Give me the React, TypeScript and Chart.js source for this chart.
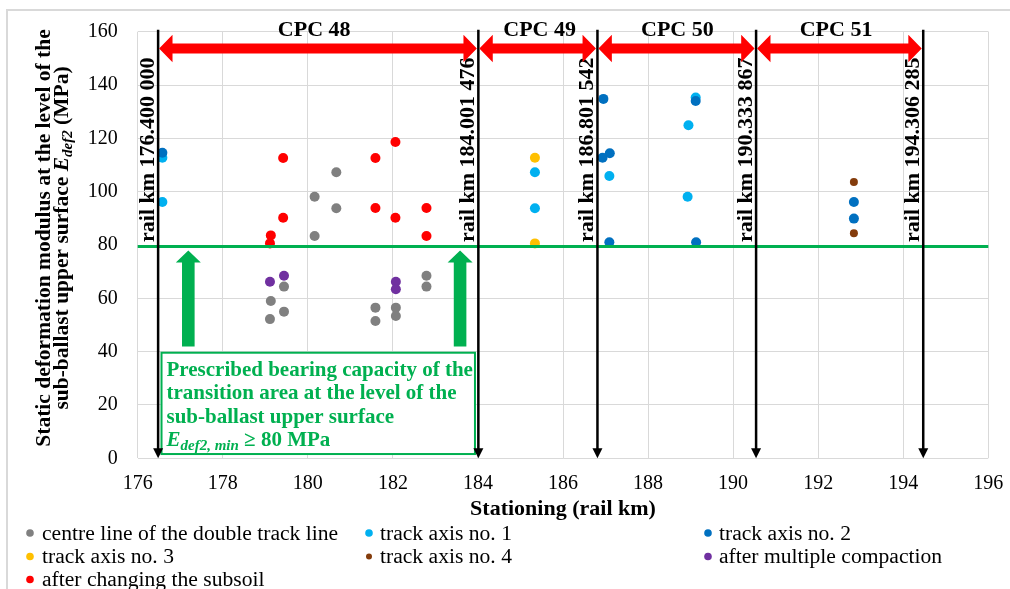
import React, { useEffect, useRef } from "react";
import { Chart, registerables } from "chart.js";

Chart.register(...registerables);

const FONT = '"Liberation Serif", "Times New Roman", Times, serif';

// ---------- data ----------
const seriesNames = [
  "centre line of the double track line",
  "track axis no. 1",
  "track axis no. 2",
  "track axis no. 3",
  "track axis no. 4",
  "after multiple compaction",
  "after changing the subsoil",
];
const seriesColors = ["#808080", "#00B0F0", "#0070C0", "#FFC000", "#843C0C", "#7030A0", "#FF0000"];
const seriesRadius = [5, 5, 5, 5, 4, 5, 5];

const centreLine = [
  { x: 180.16, y: 98.1 }, { x: 180.16, y: 83.4 }, { x: 180.67, y: 107.3 }, { x: 180.67, y: 93.8 },
  { x: 179.44, y: 64.4 }, { x: 179.13, y: 59.0 }, { x: 179.44, y: 55.0 }, { x: 179.11, y: 52.2 },
  { x: 181.59, y: 56.5 }, { x: 181.59, y: 51.5 }, { x: 182.07, y: 56.5 }, { x: 182.07, y: 53.4 },
  { x: 182.79, y: 68.5 }, { x: 182.79, y: 64.4 },
];
const trackAxis1 = [
  { x: 176.58, y: 112.7 }, { x: 176.58, y: 96.1 }, { x: 185.34, y: 107.3 }, { x: 185.34, y: 93.8 },
  { x: 187.09, y: 105.9 }, { x: 189.12, y: 135.3 }, { x: 188.95, y: 124.9 }, { x: 188.93, y: 98.1 },
];
const trackAxis2 = [
  { x: 176.58, y: 114.6 }, { x: 186.95, y: 134.8 }, { x: 186.93, y: 112.7 }, { x: 187.1, y: 114.4 },
  { x: 187.09, y: 81.0 }, { x: 189.12, y: 134.0 }, { x: 189.13, y: 81.0 }, { x: 192.84, y: 96.1 },
  { x: 192.84, y: 89.9 },
];
const trackAxis3 = [{ x: 185.34, y: 112.7 }, { x: 185.34, y: 80.6 }];
const trackAxis4 = [{ x: 192.84, y: 103.6 }, { x: 192.84, y: 84.4 }];
const multipleCompaction = [
  { x: 179.11, y: 66.2 }, { x: 179.44, y: 68.5 }, { x: 182.07, y: 66.2 }, { x: 182.07, y: 63.4 },
];
const changedSubsoil = [
  { x: 179.42, y: 112.6 }, { x: 179.42, y: 90.2 }, { x: 179.13, y: 83.6 }, { x: 179.11, y: 80.6 },
  { x: 181.59, y: 112.6 }, { x: 181.59, y: 93.9 }, { x: 182.06, y: 118.6 }, { x: 182.06, y: 90.2 },
  { x: 182.79, y: 93.9 }, { x: 182.79, y: 83.4 },
];
const seriesData = [centreLine, trackAxis1, trackAxis2, trackAxis3, trackAxis4, multipleCompaction, changedSubsoil];

// axis ranges / ticks
const xMin = 176, xMax = 196, xStep = 2;
const yMin = 0, yMax = 160, yStep = 20;

// annotations (data coordinates)
const boundaryKm = [176.48, 184.01, 186.81, 190.54, 194.47];
const boundaryLabels = [
  "rail km 176.400 000",
  "rail km 184.001 476",
  "rail km 186.801 542",
  "rail km 190.333 867",
  "rail km 194.306 285",
];
const sectionLabels = ["CPC 48", "CPC 49", "CPC 50", "CPC 51"];
const sectionLabelKm = [180.15, 185.45, 188.69, 192.42];
const thresholdValue = 79.4;
const greenArrowKm = [177.19, 183.58];
const greenArrowRange = [41.9, 77.9];
const noteBoxKm = [176.56, 183.93];
const noteBoxValues = [1.6, 39.6];
const noteLines = [
  "Prescribed bearing capacity of the",
  "transition area at the level of the",
  "sub-ballast upper surface",
];
const yTitleLine1 = "Static deformation modulus at the level of the";
const yTitleLine2 = "sub-ballast upper surface ";
const xTitle = "Stationing (rail km)";

// ---------- helpers ----------
type Part = { text: string; font: string; dy: number };
function partsWidth(ctx: CanvasRenderingContext2D, parts: Part[]) {
  let w = 0;
  for (const p of parts) {
    ctx.font = p.font;
    w += ctx.measureText(p.text).width;
  }
  return w;
}
function drawParts(ctx: CanvasRenderingContext2D, parts: Part[], x: number, y: number) {
  let cx = x;
  ctx.textAlign = "left";
  ctx.textBaseline = "alphabetic";
  for (const p of parts) {
    ctx.font = p.font;
    ctx.fillText(p.text, cx, y + p.dy);
    cx += ctx.measureText(p.text).width;
  }
}

const overlayPlugin = {
  id: "overlay",
  beforeDraw(chart: any) {
    const ctx = chart.ctx as CanvasRenderingContext2D;
    ctx.save();
    ctx.fillStyle = "#ffffff";
    ctx.fillRect(0, 0, chart.width, chart.height);
    ctx.strokeStyle = "#D9D9D9";
    ctx.lineWidth = 2;
    ctx.strokeRect(7, 10, 1030, 620);
    ctx.restore();
  },
  afterDatasetsDraw(chart: any) {
    const ctx = chart.ctx as CanvasRenderingContext2D;
    const xs = chart.scales.x;
    const ys = chart.scales.y;
    const area = chart.chartArea;
    ctx.save();

    // threshold line
    const ty = ys.getPixelForValue(thresholdValue);
    ctx.strokeStyle = "#00B050";
    ctx.lineWidth = 3;
    ctx.beginPath();
    ctx.moveTo(area.left, ty);
    ctx.lineTo(area.right, ty);
    ctx.stroke();

    // green upward arrows
    ctx.fillStyle = "#00B050";
    for (const km of greenArrowKm) {
      const cx = xs.getPixelForValue(km);
      const yTop = ys.getPixelForValue(greenArrowRange[1]);
      const yBot = ys.getPixelForValue(greenArrowRange[0]);
      const hh = 12, hw = 12.5, sw = 6.3;
      ctx.beginPath();
      ctx.moveTo(cx, yTop);
      ctx.lineTo(cx + hw, yTop + hh);
      ctx.lineTo(cx + sw, yTop + hh);
      ctx.lineTo(cx + sw, yBot);
      ctx.lineTo(cx - sw, yBot);
      ctx.lineTo(cx - sw, yTop + hh);
      ctx.lineTo(cx - hw, yTop + hh);
      ctx.closePath();
      ctx.fill();
    }

    // note box
    const bx1 = xs.getPixelForValue(noteBoxKm[0]);
    const bx2 = xs.getPixelForValue(noteBoxKm[1]);
    const by1 = ys.getPixelForValue(noteBoxValues[1]);
    const by2 = ys.getPixelForValue(noteBoxValues[0]);
    ctx.fillStyle = "#ffffff";
    ctx.fillRect(bx1, by1, bx2 - bx1, by2 - by1);
    ctx.strokeStyle = "#00B050";
    ctx.lineWidth = 2;
    ctx.strokeRect(bx1, by1, bx2 - bx1, by2 - by1);
    ctx.fillStyle = "#00B050";
    const tx = bx1 + 5;
    const baselines = [375.5, 399, 422.5, 446];
    noteLines.forEach((t, i) => {
      drawParts(ctx, [{ text: t, font: `bold 21px ${FONT}`, dy: 0 }], tx, baselines[i]);
    });
    drawParts(
      ctx,
      [
        { text: "E", font: `italic bold 21px ${FONT}`, dy: 0 },
        { text: "def2, min", font: `italic bold 15px ${FONT}`, dy: 4 },
        { text: " \u2265 80 MPa", font: `bold 21px ${FONT}`, dy: 0 },
      ],
      tx,
      baselines[3]
    );

    // black boundary lines with arrowheads
    const lineTop = area.top - 2;
    const tip = area.bottom;
    ctx.strokeStyle = "#000000";
    ctx.fillStyle = "#000000";
    ctx.lineWidth = 2.5;
    boundaryKm.forEach((km) => {
      const x = xs.getPixelForValue(km);
      ctx.beginPath();
      ctx.moveTo(x, lineTop);
      ctx.lineTo(x, tip - 8);
      ctx.stroke();
      ctx.beginPath();
      ctx.moveTo(x - 5, tip - 10);
      ctx.lineTo(x + 5, tip - 10);
      ctx.lineTo(x, tip);
      ctx.closePath();
      ctx.fill();
    });

    // rotated boundary labels
    ctx.font = `bold 22px ${FONT}`;
    ctx.fillStyle = "#000000";
    boundaryKm.forEach((km, i) => {
      const x = xs.getPixelForValue(km);
      ctx.save();
      ctx.translate(x - 4.5, 242);
      ctx.rotate(-Math.PI / 2);
      ctx.textAlign = "left";
      ctx.textBaseline = "alphabetic";
      ctx.fillText(boundaryLabels[i], 0, 0);
      ctx.restore();
    });

    // red double arrows
    ctx.fillStyle = "#FF0000";
    const cy = 48.5, hh = 13.8, sh = 5, hl = 13.4;
    for (let i = 0; i < boundaryKm.length - 1; i++) {
      const x1 = xs.getPixelForValue(boundaryKm[i]) + 1;
      const x2 = xs.getPixelForValue(boundaryKm[i + 1]) - 1.5;
      ctx.beginPath();
      ctx.moveTo(x1, cy);
      ctx.lineTo(x1 + hl, cy - hh);
      ctx.lineTo(x1 + hl, cy - sh);
      ctx.lineTo(x2 - hl, cy - sh);
      ctx.lineTo(x2 - hl, cy - hh);
      ctx.lineTo(x2, cy);
      ctx.lineTo(x2 - hl, cy + hh);
      ctx.lineTo(x2 - hl, cy + sh);
      ctx.lineTo(x1 + hl, cy + sh);
      ctx.lineTo(x1 + hl, cy + hh);
      ctx.closePath();
      ctx.fill();
    }

    // section labels
    ctx.fillStyle = "#000000";
    ctx.font = `bold 22px ${FONT}`;
    ctx.textAlign = "center";
    ctx.textBaseline = "alphabetic";
    sectionLabels.forEach((t, i) => {
      ctx.fillText(t, xs.getPixelForValue(sectionLabelKm[i]), 35.5);
    });
    ctx.restore();
  },
  afterDraw(chart: any) {
    const ctx = chart.ctx as CanvasRenderingContext2D;
    ctx.save();
    ctx.fillStyle = "#000000";
    // y-axis title (two rotated lines)
    const cy = 238;
    const line1: Part[] = [{ text: yTitleLine1, font: `bold 21.5px ${FONT}`, dy: 0 }];
    const line2: Part[] = [
      { text: yTitleLine2, font: `bold 21.5px ${FONT}`, dy: 0 },
      { text: "E", font: `italic bold 21.5px ${FONT}`, dy: 0 },
      { text: "def2", font: `italic bold 15px ${FONT}`, dy: 4 },
      { text: " (MPa)", font: `bold 21.5px ${FONT}`, dy: 0 },
    ];
    [[line1, 50], [line2, 68]].forEach(([parts, bx]: any) => {
      ctx.save();
      ctx.translate(bx, cy);
      ctx.rotate(-Math.PI / 2);
      const w = partsWidth(ctx, parts);
      drawParts(ctx, parts, -w / 2, 0);
      ctx.restore();
    });

    // legend
    const markerX = [30, 369, 708];
    const textX = [42, 380, 719];
    const rowY = [533, 556.5, 579.5];
    ctx.font = `21.6px ${FONT}`;
    ctx.textAlign = "left";
    ctx.textBaseline = "middle";
    seriesNames.forEach((name, i) => {
      const col = i % 3;
      const row = Math.floor(i / 3);
      ctx.fillStyle = seriesColors[i];
      ctx.beginPath();
      ctx.arc(markerX[col], rowY[row], seriesRadius[i] === 4 ? 3 : 3.8, 0, Math.PI * 2);
      ctx.fill();
      ctx.fillStyle = "#000000";
      ctx.fillText(name, textX[col], rowY[row] + 1);
    });
    ctx.restore();
  },
};

export default function App() {
  const ref = useRef<HTMLCanvasElement>(null);
  useEffect(() => {
    if (!ref.current) return;
    const chart = new Chart(ref.current, {
      type: "scatter",
      data: {
        datasets: seriesData.map((d, i) => ({
          label: seriesNames[i],
          data: d,
          backgroundColor: seriesColors[i],
          borderColor: seriesColors[i],
          borderWidth: 0,
          pointRadius: seriesRadius[i],
          pointHoverRadius: seriesRadius[i],
          order: seriesData.length - i,
        })),
      },
      options: {
        responsive: false,
        animation: false,
        devicePixelRatio: 1,
        layout: { padding: { left: 0, right: 21.7, top: 31.7, bottom: 0 } },
        plugins: { legend: { display: false }, tooltip: { enabled: false } },
        scales: {
          x: {
            type: "linear",
            min: xMin,
            max: xMax,
            ticks: {
              stepSize: xStep,
              padding: 13.5,
              color: "#000000",
              font: { family: FONT, size: 20 },
            },
            grid: { color: "#D9D9D9", lineWidth: 1, drawTicks: false },
            border: { display: false },
            title: {
              display: true,
              text: xTitle,
              color: "#000000",
              font: { family: FONT, size: 22, weight: "bold" },
              padding: { top: 0, bottom: 66.8 },
            },
            afterFit: (s: any) => {
              s.height = 589 - 458.3;
              s.paddingLeft = 0;
              s.paddingRight = 0;
            },
          },
          y: {
            type: "linear",
            min: yMin,
            max: yMax,
            ticks: {
              stepSize: yStep,
              padding: 20,
              color: "#000000",
              font: { family: FONT, size: 20 },
            },
            grid: { color: "#D9D9D9", lineWidth: 1, drawTicks: false },
            border: { display: false },
            afterFit: (s: any) => {
              s.width = 137.7;
              s.paddingTop = 0;
              s.paddingBottom = 0;
            },
          },
        },
      },
      plugins: [overlayPlugin],
    } as any);
    return () => chart.destroy();
  }, []);
  return (
    <div style={{ position: "absolute", left: 0, top: 0, width: 1010, height: 589, background: "#fff" }}>
      <canvas ref={ref} width={1010} height={589} style={{ display: "block", width: 1010, height: 589 }} />
    </div>
  );
}
